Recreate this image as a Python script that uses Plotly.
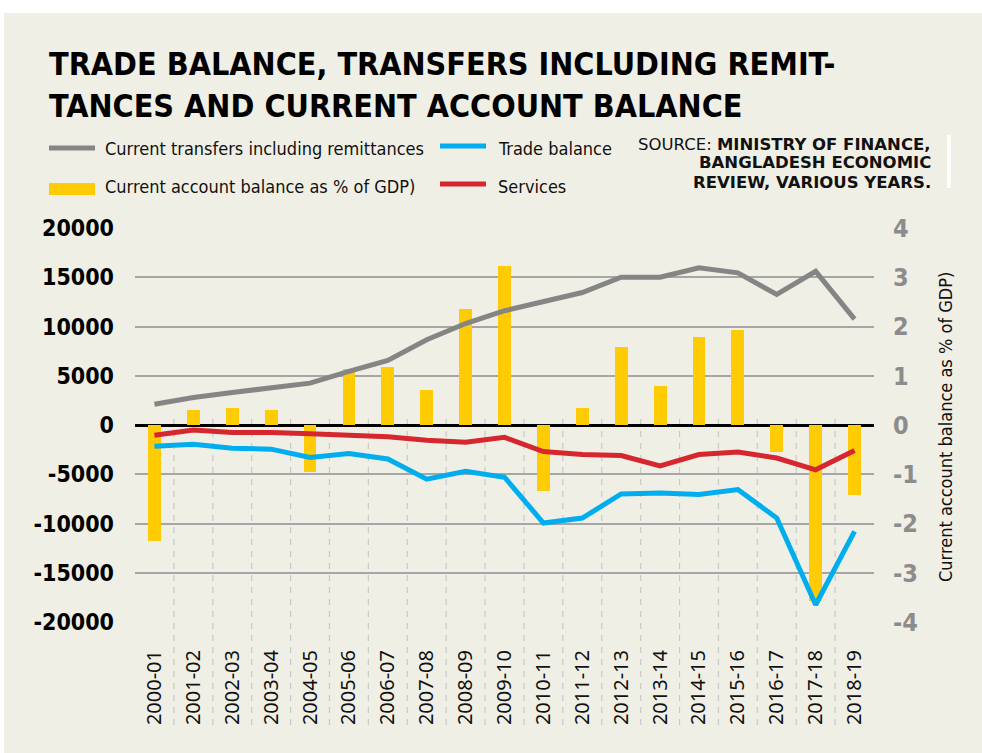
import plotly.graph_objects as go

years = ["2000-01", "2001-02", "2002-03", "2003-04", "2004-05", "2005-06", "2006-07",
         "2007-08", "2008-09", "2009-10", "2010-11", "2011-12", "2012-13", "2013-14",
         "2014-15", "2015-16", "2016-17", "2017-18", "2018-19"]
transfers = [2100, 2800, 3300, 3750, 4250, 5450, 6550, 8650, 10300, 11600, 12550, 13450,
             15000, 15000, 15950, 15450, 13250, 15600, 10750]
trade_balance = [-2150, -1950, -2350, -2450, -3300, -2900, -3450, -5500, -4700, -5300, -9950,
                 -9450, -7000, -6900, -7050, -6550, -9450, -18250, -10800]
services = [-1050, -500, -750, -750, -900, -1000, -1200, -1550, -1750, -1250, -2700, -3000,
            -3100, -4150, -3000, -2750, -3350, -4550, -2600]
ca_gdp = [-2.36, 0.31, 0.35, 0.31, -0.95, 1.14, 1.18, 0.72, 2.36, 3.23, -1.33, 0.35, 1.59,
          0.80, 1.79, 1.93, -0.55, -3.58, -1.43]
left_ticks = [-20000, -15000, -10000, -5000, 0, 5000, 10000, 15000, 20000]
left_labels = ["-20000", "-15000", "-10000", "-5000", "0", "5000", "10000", "15000", "20000"]
right_ticks = [-4, -3, -2, -1, 0, 1, 2, 3, 4]
right_labels = ["-4", "-3", "-2", "-1", "0", "1", "2", "3", "4"]

BG = "#f0efe5"
COND = "DejaVu Sans Condensed, DejaVu Sans, sans-serif"
GRAY = "#858585"
BLUE = "#00aeef"
RED = "#d6262e"
YELLOW = "#ffcb05"

W, H = 982, 753
# plot area in page pixels
L, R, T, B = 135, 874, 228, 622


def px(x):
    return (x - L) / (R - L)


def py(y):
    return (B - y) / (B - T)


fig = go.Figure()
fig.add_trace(go.Bar(x=years, y=ca_gdp, name="Current account balance as % of GDP)",
                     marker=dict(color=YELLOW, line=dict(width=0)), width=0.33, yaxis="y"))
fig.add_trace(go.Scatter(x=years, y=transfers, name="Current transfers including remittances",
                         mode="lines", line=dict(color=GRAY, width=5), yaxis="y2"))
fig.add_trace(go.Scatter(x=years, y=services, name="Services", mode="lines",
                         line=dict(color=RED, width=5), yaxis="y2"))
fig.add_trace(go.Scatter(x=years, y=trade_balance, name="Trade balance", mode="lines",
                         line=dict(color=BLUE, width=5), yaxis="y2"))

shapes = []
for i in range(len(years) - 1):
    shapes.append(dict(type="line", xref="x", yref="paper", x0=i + 0.5, x1=i + 0.5,
                       y0=py(725), y1=py(418), layer="below",
                       line=dict(color="#c9c9c6", width=1.2, dash="6px,6px")))
# white frame strips
shapes.append(dict(type="rect", xref="paper", yref="paper", x0=px(-20), x1=px(1000),
                   y0=py(13), y1=py(-20), fillcolor="white", line=dict(width=0), layer="below"))
shapes.append(dict(type="rect", xref="paper", yref="paper", x0=px(-20), x1=px(4),
                   y0=py(780), y1=py(-20), fillcolor="white", line=dict(width=0), layer="below"))
shapes.append(dict(type="rect", xref="paper", yref="paper", x0=px(947), x1=px(951),
                   y0=py(188), y1=py(135), fillcolor="white", line=dict(width=0), layer="below"))
# legend symbols
shapes.append(dict(type="line", xref="paper", yref="paper", x0=px(49), x1=px(95),
                   y0=py(148), y1=py(148), line=dict(color=GRAY, width=5)))
shapes.append(dict(type="rect", xref="paper", yref="paper", x0=px(49), x1=px(95),
                   y0=py(195), y1=py(183), fillcolor=YELLOW, line=dict(width=0)))
shapes.append(dict(type="line", xref="paper", yref="paper", x0=px(440), x1=px(486),
                   y0=py(146), y1=py(146), line=dict(color=BLUE, width=5)))
shapes.append(dict(type="line", xref="paper", yref="paper", x0=px(440), x1=px(486),
                   y0=py(184), y1=py(184), line=dict(color=RED, width=5)))

ann = []
title_font = dict(family=COND, size=32, color="#000000", weight="bold")
ann.append(dict(text="TRADE BALANCE, TRANSFERS INCLUDING REMIT-", x=px(47), y=py(64),
                xref="paper", yref="paper", xanchor="left", yanchor="middle",
                showarrow=False, font=title_font))
ann.append(dict(text="TANCES AND CURRENT ACCOUNT BALANCE", x=px(47), y=py(106),
                xref="paper", yref="paper", xanchor="left", yanchor="middle",
                showarrow=False, font=title_font))
leg_font = dict(family=COND, size=18, color="#111111")
for txt, x, y in [("Current transfers including remittances", 103, 148),
                  ("Current account balance as % of GDP)", 103, 186),
                  ("Trade balance", 496, 148),
                  ("Services", 496, 186)]:
    ann.append(dict(text=txt, x=px(x), y=py(y), xref="paper", yref="paper",
                    xanchor="left", yanchor="middle", showarrow=False, font=leg_font))
src_font = dict(family="DejaVu Sans, sans-serif", size=16.5, color="#111111")
for txt, y in [("SOURCE: <b>MINISTRY OF FINANCE,</b>", 144),
               ("<b>BANGLADESH ECONOMIC</b>", 163),
               ("<b>REVIEW, VARIOUS YEARS.</b>", 182)]:
    ann.append(dict(text=txt, x=px(933), y=py(y), xref="paper", yref="paper",
                    xanchor="right", yanchor="middle", showarrow=False, font=src_font))
ann.append(dict(text="Current account balance as % of GDP)", x=px(945), y=py(427),
                xref="paper", yref="paper", xanchor="center", yanchor="middle",
                textangle=-90, showarrow=False,
                font=dict(family=COND, size=18, color="#111111")))

fig.update_layout(
    width=W, height=H,
    margin=dict(l=L, r=W - R, t=T, b=H - B, pad=0),
    paper_bgcolor=BG, plot_bgcolor="rgba(0,0,0,0)",
    showlegend=False,
    bargap=0,
    xaxis=dict(type="category", range=[-0.5, len(years) - 0.5], showgrid=False,
               zeroline=False, showline=False, ticks="", tickangle=-90,
               tickfont=dict(family="Noto Sans, sans-serif", size=20, color="#111111"),
               ticklabelstandoff=23),
    yaxis=dict(range=[-4, 4], tickvals=right_ticks, ticktext=right_labels, side="right",
               showgrid=True, gridcolor="#a6a6a6", gridwidth=1.5, zeroline=True,
               zerolinecolor="#000000", zerolinewidth=2.5, showline=False, ticks="",
               tickfont=dict(family=COND, size=25, color="#8c8c8c", weight="bold"),
               ticklabelstandoff=18),
    yaxis2=dict(range=[-20000, 20000], tickvals=left_ticks, ticktext=left_labels,
                side="left", overlaying="y", showgrid=False, zeroline=False,
                showline=False, ticks="",
                tickfont=dict(family=COND, size=23, color="#000000", weight="bold"),
                ticklabelstandoff=20),
    shapes=shapes,
    annotations=ann,
)

fig.write_html("out.html", config={"displayModeBar": False},
               post_script="document.body.style.margin='0px';")
